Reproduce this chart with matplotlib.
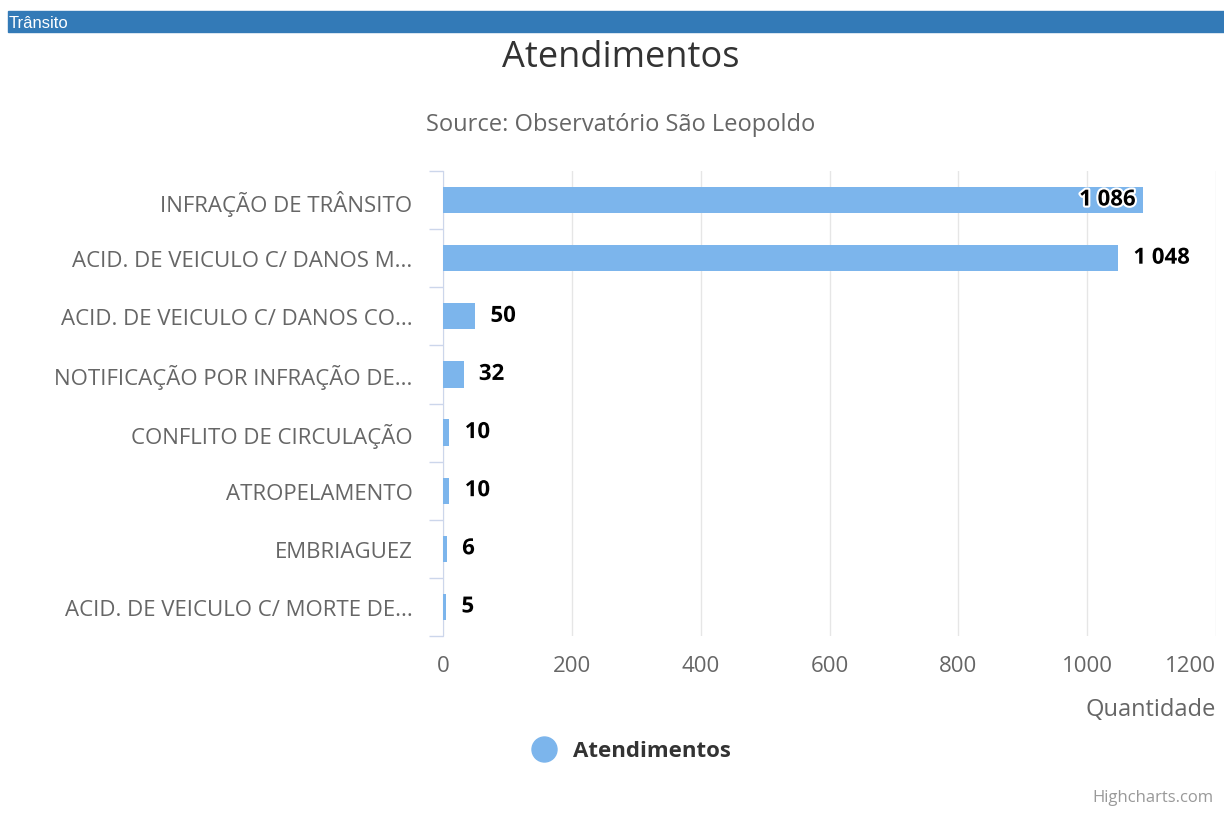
import matplotlib.pyplot as plt
import matplotlib.patheffects as pe
from matplotlib.lines import Line2D
from matplotlib.patches import Rectangle
import numpy as np

categories = ['INFRAÇÃO DE TRÂNSITO', 'ACID. DE VEICULO C/ DANOS M...',
              'ACID. DE VEICULO C/ DANOS CO...', 'NOTIFICAÇÃO POR INFRAÇÃO DE...',
              'CONFLITO DE CIRCULAÇÃO', 'ATROPELAMENTO', 'EMBRIAGUEZ',
              'ACID. DE VEICULO C/ MORTE DE...']
values = [1086, 1048, 50, 32, 10, 10, 6, 5]
value_labels = ['1 086', '1 048', '50', '32', '10', '10', '6', '5']
xticks = [0, 200, 400, 600, 800, 1000, 1200]

plt.rcParams['font.family'] = ['Open Sans', 'DejaVu Sans']

fig = plt.figure(figsize=(12.24, 8.37), dpi=100)
ax = fig.add_axes([443/1224, 1-637/837, (1216-443)/1224, (637-172)/837])

y = np.arange(len(categories))
ax.barh(y, values, height=0.45, color='#7cb5ec', zorder=3)
ax.set_ylim(len(categories)-0.5, -0.5)
ax.set_xlim(0, 1200)

# data labels (the first one does not fit outside, so it goes inside the bar)
for i, (v, lab) in enumerate(zip(values, value_labels)):
    if v > 1070:
        t = ax.annotate(lab, (v, i), xytext=(-5, 0), textcoords='offset points',
                        ha='right', va='center', fontsize=16, fontweight='bold', color='black')
    else:
        t = ax.annotate(lab, (v, i), xytext=(11, 0), textcoords='offset points',
                        ha='left', va='center', fontsize=16, fontweight='bold', color='black')
    t.set_path_effects([pe.withStroke(linewidth=3, foreground='white')])

# x axis
ax.set_xticks(xticks)
ax.set_xticklabels([str(t) for t in xticks])
ax.tick_params(axis='x', length=0, pad=14, labelsize=16, labelcolor='#666666')
ax.get_xticklabels()[-1].set_ha('right')
ax.grid(axis='x', color='#e6e6e6', linewidth=1, zorder=0)

# y axis
ax.set_yticks(y)
ax.set_yticklabels(categories)
ax.tick_params(axis='y', length=0, pad=22, labelsize=16, labelcolor='#666666')
ax.set_yticks(np.arange(len(categories)+1) - 0.5, minor=True)
ax.tick_params(axis='y', which='minor', length=10, color='#ccd6eb', width=1)

for s in ['top', 'right', 'bottom']:
    ax.spines[s].set_visible(False)
ax.spines['left'].set_color('#ccd6eb')

ax.set_xlabel('Quantidade', fontsize=17, color='#666666', loc='right', labelpad=15)

# header band
fig.patches.append(Rectangle((8/1224, 1-33/837), 1, 21/837, transform=fig.transFigure,
                             color='#337ab7', zorder=0))
fig.text(9/1224, 1-23/837, 'Trânsito', color='white', fontsize=12,
         family='Liberation Sans', va='center', ha='left')

fig.text(0.507, 1-58/837, 'Atendimentos', ha='center', va='center', fontsize=26, color='#333333')
fig.text(0.507, 1-125/837, 'Source: Observatório São Leopoldo', ha='center', va='center',
         fontsize=17, color='#666666')

handle = Line2D([], [], marker='o', linestyle='none', markersize=18,
                markerfacecolor='#7cb5ec', markeredgecolor='#7cb5ec')
fig.legend([handle], ['Atendimentos'], loc='center', bbox_to_anchor=(0.512, 1-752/837),
           frameon=False, prop={'size': 16, 'weight': 'bold'}, labelcolor='#333333',
           handletextpad=0.3)

fig.text(1214/1224, 1-798/837, 'Highcharts.com', ha='right', va='center', fontsize=12, color='#999999')

plt.savefig('out.png', dpi=100)
